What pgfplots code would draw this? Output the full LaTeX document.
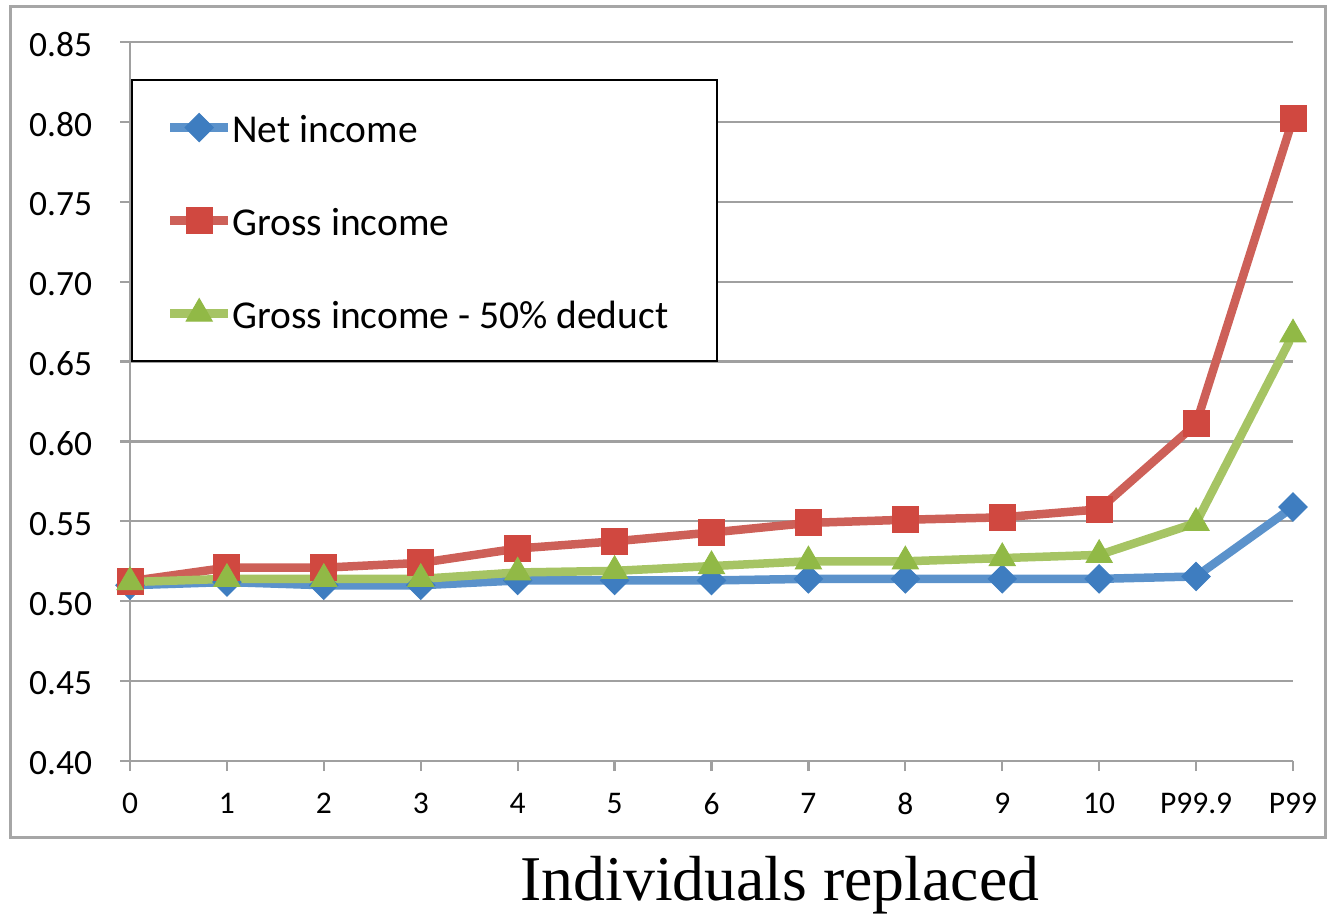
\documentclass[border=0pt]{standalone}
\usepackage{fontspec}
\setmainfont{Carlito}
\newfontfamily\timesfont{Liberation Serif}
\usepackage{pgfplots}
\pgfplotsset{compat=1.18}
\definecolor{gridgray}{RGB}{160,160,160}
\definecolor{framegray}{RGB}{166,166,166}
\definecolor{bline}{RGB}{91,146,203}
\definecolor{bmark}{RGB}{62,125,192}
\definecolor{rline}{RGB}{205,96,88}
\definecolor{rmark}{RGB}{208,72,64}
\definecolor{gline}{RGB}{166,196,100}
\definecolor{gmark}{RGB}{145,185,70}
\begin{document}
\begin{tikzpicture}
\useasboundingbox (0,0) rectangle (532.8pt,-366.4pt);
\draw[framegray, line width=1.2pt] (4pt,-2.8pt) rectangle (530pt,-334.8pt);
\begin{axis}[
  at={(52pt,-304.4pt)}, anchor=south west,
  scale only axis, width=465.2pt, height=287.6pt,
  xmin=0, xmax=12, ymin=0.40, ymax=0.85,
  axis x line=bottom, axis y line=left,
  axis line style={gridgray, line width=0.9pt, -},
  xtick={0,1,2,3,4,5,6,7,8,9,10,11,12},
  xticklabels={0,1,2,3,4,5,6,7,8,9,10,P99.9,P99},
  ytick={0.40,0.45,0.50,0.55,0.60,0.65,0.70,0.75,0.80,0.85},
  tick align=outside, major tick length=4pt,
  tick style={gridgray, line width=0.9pt},
  ymajorgrids, major grid style={gridgray, line width=0.9pt},
  /pgf/number format/assume math mode=true,
  yticklabel style={font=\fontsize{14.2}{16}\selectfont, xshift=-7.6pt, yshift=-1pt,
    /pgf/number format/fixed, /pgf/number format/fixed zerofill,
    /pgf/number format/precision=2},
  xticklabel style={font=\fontsize{12.6}{14}\selectfont, yshift=-5.2pt},
  legend cell align=left,
  legend image code/.code={\draw[mark repeat=2,mark phase=2,#1] plot coordinates {(0pt,0pt)(11.6pt,0pt)(23.2pt,0pt)};},
  legend style={at={(axis cs:0.01,0.8268)}, anchor=north west, draw=black,
    line width=0.8pt, fill=white, font=\fontsize{15.8}{18}\selectfont,
    inner xsep=13.6pt, inner ysep=12pt, row sep=23.2pt,
    nodes={inner sep=0pt, text height=13pt, text depth=1pt}},
]
\addplot[color=bline, line width=3.4pt, mark=square*, mark size=4pt,
  mark options={rotate=45, fill=bmark, draw=bmark, line width=0.4pt}]
  coordinates {(0,0.510)(1,0.512)(2,0.510)(3,0.510)(4,0.513)(5,0.513)(6,0.513)
  (7,0.514)(8,0.514)(9,0.514)(10,0.514)(11,0.5155)(12,0.559)};
\addlegendentry{Net income}
\addplot[color=rline, line width=3.4pt, mark=square*, mark size=5.2pt,
  mark options={fill=rmark, draw=rmark, line width=0.4pt}]
  coordinates {(0,0.5125)(1,0.521)(2,0.521)(3,0.524)(4,0.533)(5,0.5375)(6,0.543)
  (7,0.549)(8,0.551)(9,0.5525)(10,0.5575)(11,0.611)(12,0.802)};
\addlegendentry{Gross income}
\addplot[color=gline, line width=3.4pt, mark=triangle*, mark size=6pt,
  mark options={fill=gmark, draw=gmark, line width=0.4pt}]
  coordinates {(0,0.512)(1,0.514)(2,0.514)(3,0.514)(4,0.518)(5,0.519)(6,0.522)
  (7,0.525)(8,0.525)(9,0.527)(10,0.529)(11,0.549)(12,0.667)};
\addlegendentry{Gross income - 50\% deduct\kern6pt}
\end{axis}
\node[anchor=base west, inner sep=0pt, font=\timesfont\fontsize{25.5}{28}\selectfont] at (208pt,-360pt) {Individuals replaced};
\end{tikzpicture}
\end{document}
